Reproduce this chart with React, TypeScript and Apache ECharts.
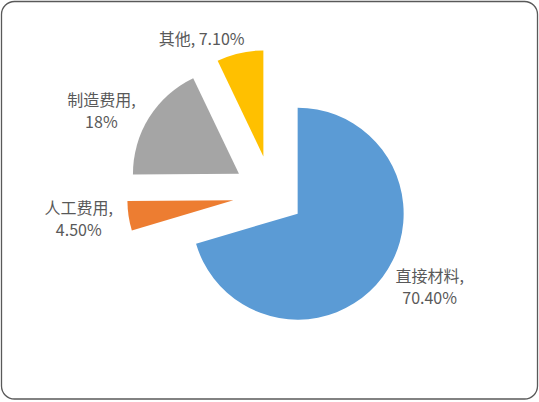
import { useRef, useEffect } from 'react'
import * as echarts from 'echarts'

// 成本构成（%）
const categories = ['直接材料', '人工费用', '制造费用', '其他']
const shares = [70.4, 4.5, 18, 7.1]

const colors = ['#5B9BD5', '#ED7D31', '#A5A5A5', '#FFC000']
// label centres (px), Excel-style "outside end" placement
const labelSpots = [
  [421, 297],
  [85, 223],
  [106, 112],
  [233, 37],
]

const pct = (v: number) => (Number.isInteger(v) ? `${v}%` : `${v.toFixed(2)}%`)

function buildData(show: (i: number) => boolean) {
  return categories.map((name, i) => ({
    name,
    value: shares[i],
    selected: show(i),
    itemStyle: { color: show(i) ? colors[i] : 'rgba(0,0,0,0)' },
    label: { show: show(i) },
    labelLine: { show: false },
  }))
}

function App() {
  const chartRef = useRef<HTMLDivElement>(null)

  useEffect(() => {
    if (!chartRef.current) return
    const myChart = echarts.init(chartRef.current, null, { renderer: 'svg' })

    const base = {
      type: 'pie',
      center: [272, 194.5],
      radius: 106,
      startAngle: 90,
      clockwise: true,
      selectedMode: 'multiple',
      avoidLabelOverlap: false,
      emphasis: { disabled: true },
      select: { itemStyle: { borderWidth: 0 } },
      itemStyle: { borderWidth: 0 },
      label: {
        position: 'outside',
        color: '#595959',
        fontSize: 16,
        lineHeight: 22,
        fontFamily: 'Noto Sans CJK SC',
        formatter: (p: any) =>
          p.name.length > 2 ? `${p.name},\n${pct(p.value)}` : `${p.name}, ${pct(p.value)}`,
      },
      labelLine: { show: false },
      labelLayout: (p: any) => ({
        x: labelSpots[p.dataIndex][0],
        y: labelSpots[p.dataIndex][1],
        align: 'center',
        verticalAlign: 'middle',
      }),
    }

    const option = {
      animation: false,
      backgroundColor: '#ffffff',
      graphic: [
        {
          type: 'rect',
          shape: { x: 1.5, y: 1.5, width: 536, height: 397.5, r: 13 },
          style: { fill: 'none', stroke: '#595959', lineWidth: 1.3 },
          z: 10,
        },
      ],
      series: [
        // main slice, slightly pulled out
        { ...base, selectedOffset: 32, data: buildData((i) => i === 0) },
        // the three smaller slices, pulled out further
        { ...base, selectedOffset: 39, data: buildData((i) => i !== 0) },
      ],
    }
    myChart.setOption(option as any)

    return () => {
      myChart.dispose()
    }
  }, [])

  return (
    <div
      ref={chartRef}
      style={{ position: 'fixed', left: 0, top: 0, width: '539px', height: '402px' }}
    ></div>
  )
}

export default App
